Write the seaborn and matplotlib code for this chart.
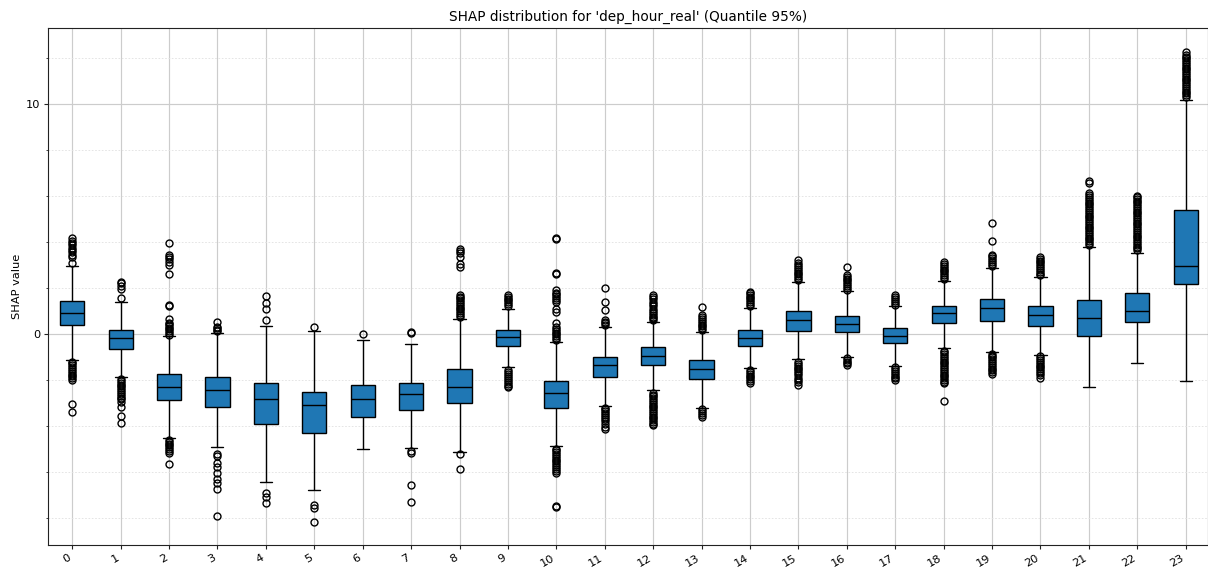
import numpy as np
import pandas as pd
import matplotlib
matplotlib.use("Agg")
import matplotlib.pyplot as plt
from matplotlib.ticker import MultipleLocator
import seaborn as sns

# Per-hour SHAP summary: quartiles, whisker ends and individual outliers
hours = list(range(24))
q1 = [0.39, -0.67, -2.87, -3.16, -3.91, -4.32, -3.62, -3.30, -2.99, -0.51, -3.20, -1.86,
      -1.35, -1.97, -0.51, 0.13, 0.07, -0.41, 0.46, 0.58, 0.36, -0.07, 0.54, 2.17]
median = [0.90, -0.19, -2.32, -2.45, -2.84, -3.09, -2.84, -2.62, -2.32, -0.14, -2.58, -1.35,
          -0.96, -1.51, -0.17, 0.61, 0.43, -0.07, 0.90, 1.14, 0.83, 0.68, 1.01, 2.97]
q3 = [1.43, 0.17, -1.75, -1.86, -2.12, -2.54, -2.23, -2.14, -1.52, 0.17, -2.04, -0.99,
      -0.58, -1.13, 0.17, 1.00, 0.80, 0.25, 1.23, 1.52, 1.22, 1.48, 1.77, 5.39]
whisker_low = [-1.12, -1.88, -4.50, -4.92, -6.42, -6.78, -5.00, -4.94, -5.14, -1.45, -4.86, -3.12,
               -2.43, -3.20, -1.49, -1.10, -0.99, -1.39, -0.59, -0.77, -0.91, -2.29, -1.25, -2.03]
whisker_high = [2.97, 1.40, -0.10, 0.03, 0.35, 0.12, -0.26, -0.42, 0.65, 1.10, -0.36, 0.30,
                0.51, 0.10, 1.12, 2.25, 1.87, 1.22, 2.30, 2.88, 2.49, 3.78, 3.51, 10.17]

outliers_low = [
    [-1.2, -1.28, -1.36, -1.44, -1.52, -1.6, -1.68, -1.76, -1.84, -1.92, -2.0, -3.06, -3.38],
    [-1.96, -2.04, -2.12, -2.2, -2.28, -2.36, -2.44, -2.52, -2.6, -2.68, -2.76, -2.84, -2.94,
     -3.16, -3.57, -3.88],
    [-4.6, -4.68, -4.76, -4.84, -4.92, -5.0, -5.08, -5.16, -5.64],
    [-5.2, -5.3, -5.62, -5.77, -6.06, -6.3, -6.46, -6.75, -7.91],
    [-6.93, -7.07, -7.36],
    [-7.43, -7.58, -8.16],
    [],
    [-5.09, -5.16, -6.57, -7.29],
    [-5.22, -5.87],
    [-1.58, -1.66, -1.74, -1.82, -1.9, -2.0, -2.08, -2.16, -2.24, -2.32],
    [-4.98, -5.06, -5.14, -5.22, -5.3, -5.38, -5.46, -5.54, -5.62, -5.7, -5.78, -5.86, -5.94,
     -6.03, -7.46, -7.52],
    [-3.2, -3.28, -3.36, -3.44, -3.52, -3.6, -3.7, -3.8, -3.9, -4.03, -4.13],
    [-2.55, -2.63, -2.71, -2.79, -2.87, -2.95, -3.03, -3.11, -3.19, -3.27, -3.35, -3.43, -3.51,
     -3.59, -3.67, -3.75, -3.83, -3.91, -3.96],
    [-3.27, -3.35, -3.43, -3.51, -3.6],
    [-1.57, -1.65, -1.73, -1.81, -1.89, -1.97, -2.05, -2.15],
    [-1.22, -1.3, -1.38, -1.46, -1.54, -1.62, -1.7, -1.8, -1.9, -2.0, -2.1, -2.2],
    [-1.05, -1.12, -1.2, -1.28, -1.35],
    [-1.45, -1.53, -1.61, -1.69, -1.77, -1.85, -1.93, -2.0],
    [-0.72, -0.8, -0.88, -0.96, -1.04, -1.12, -1.2, -1.28, -1.36, -1.44, -1.52, -1.6, -1.68,
     -1.76, -1.84, -1.92, -2.0, -2.08, -2.15, -2.9],
    [-0.86, -0.94, -1.02, -1.1, -1.18, -1.26, -1.34, -1.42, -1.5, -1.58, -1.66, -1.75],
    [-0.97, -1.05, -1.13, -1.21, -1.29, -1.37, -1.45, -1.53, -1.61, -1.7, -1.8, -1.93],
    [],
    [],
    [],
]

outliers_high = [
    [3.08, 3.35, 3.45, 3.55, 3.65, 3.75, 3.85, 3.95, 4.05, 4.17],
    [1.55, 1.96, 2.09, 2.2, 2.25],
    [-0.04, 0.05, 0.12, 0.2, 0.28, 0.36, 0.45, 0.5, 0.64, 1.2, 1.28, 2.61, 3.0, 3.12, 3.25,
     3.35, 3.43, 3.94],
    [0.12, 0.18, 0.25, 0.32, 0.54],
    [0.62, 1.07, 1.36, 1.67],
    [0.32],
    [-0.02],
    [0.03, 0.1],
    [0.75, 0.83, 0.91, 0.99, 1.07, 1.15, 1.23, 1.31, 1.39, 1.47, 1.55, 1.63, 1.7, 2.93, 3.05,
     3.35, 3.5, 3.6, 3.68],
    [1.22, 1.3, 1.38, 1.46, 1.54, 1.62, 1.7],
    [-0.26, -0.18, -0.1, -0.02, 0.06, 0.14, 0.22, 0.3, 0.47, 0.97, 1.09, 1.4, 1.48, 1.56, 1.64,
     1.72, 1.8, 1.9, 2.6, 2.64, 4.13, 4.17],
    [0.4, 0.47, 0.54, 0.6, 1.04, 1.38, 2.01],
    [0.6, 0.68, 0.76, 0.84, 0.92, 1.0, 1.1, 1.2, 1.3, 1.4, 1.5, 1.6, 1.7],
    [0.17, 0.25, 0.33, 0.41, 0.49, 0.57, 0.65, 0.73, 0.83, 1.19],
    [1.23, 1.31, 1.39, 1.47, 1.55, 1.63, 1.71, 1.78, 1.84],
    [2.35, 2.43, 2.51, 2.59, 2.67, 2.75, 2.83, 2.91, 3.0, 3.1, 3.2],
    [1.93, 2.01, 2.09, 2.17, 2.25, 2.33, 2.41, 2.49, 2.57, 2.93],
    [1.28, 1.36, 1.44, 1.52, 1.6, 1.7],
    [2.4, 2.48, 2.56, 2.64, 2.72, 2.8, 2.88, 2.96, 3.04, 3.14],
    [2.97, 3.05, 3.13, 3.21, 3.29, 3.37, 3.43, 4.04, 4.81],
    [2.55, 2.63, 2.71, 2.79, 2.87, 2.95, 3.03, 3.11, 3.19, 3.27, 3.36],
    [3.87, 3.95, 4.03, 4.11, 4.19, 4.27, 4.35, 4.43, 4.51, 4.59, 4.67, 4.75, 4.83, 4.91, 4.99,
     5.07, 5.15, 5.23, 5.31, 5.39, 5.47, 5.55, 5.63, 5.71, 5.79, 5.87, 5.95, 6.03, 6.12, 6.58,
     6.66],
    [3.64, 3.72, 3.8, 3.88, 3.96, 4.04, 4.12, 4.2, 4.28, 4.36, 4.44, 4.52, 4.6, 4.68, 4.76,
     4.84, 4.92, 5.0, 5.08, 5.16, 5.24, 5.32, 5.4, 5.48, 5.56, 5.64, 5.72, 5.8, 5.88, 5.96,
     6.02],
    [10.3, 10.38, 10.46, 10.54, 10.62, 10.7, 10.78, 10.86, 10.94, 11.02, 11.1, 11.18, 11.26,
     11.34, 11.42, 11.5, 11.58, 11.66, 11.74, 11.82, 11.9, 11.98, 12.06, 12.14, 12.27],
]

# Assemble a long-form sample per hour whose quartiles, whiskers and
# outliers reproduce the summary above (weighted blocks at q1 / median / q3).
BLOCK = 300
rows = []
for i, h in enumerate(hours):
    values = (outliers_low[i] + [whisker_low[i]]
              + [q1[i]] * BLOCK + [median[i]] * BLOCK + [q3[i]] * BLOCK
              + [whisker_high[i]] + outliers_high[i])
    rows.extend((str(h), v) for v in values)
df = pd.DataFrame(rows, columns=["hour", "shap"])

sns.set_theme(style="ticks")
plt.rcParams["font.family"] = ["DejaVu Sans"]
plt.rcParams["axes.edgecolor"] = "#222222"
plt.rcParams["axes.linewidth"] = 0.8
plt.rcParams["text.color"] = "black"
plt.rcParams["axes.labelcolor"] = "black"
plt.rcParams["xtick.color"] = "black"
plt.rcParams["ytick.color"] = "black"

fig = plt.figure(figsize=(12.08, 5.71), dpi=100)
ax = fig.add_axes([48 / 1208, 1 - 545 / 571, (1207.5 - 48) / 1208, (545 - 28) / 571])

sns.boxplot(
    data=df, x="hour", y="shap", order=[str(h) for h in hours],
    color="#1f77b4", saturation=1, width=0.5, linecolor="black", linewidth=1.0,
    flierprops={"marker": "o", "markersize": 5.0, "markerfacecolor": "none",
                "markeredgecolor": "black", "markeredgewidth": 1.0},
    ax=ax, zorder=3,
)

ax.set_xlim(-0.5, 23.45)
ax.set_ylim(-9.17, 13.30)
ax.yaxis.set_major_locator(MultipleLocator(10))
ax.yaxis.set_minor_locator(MultipleLocator(2))
ax.grid(True, which="major", axis="both", color="#cccccc", linewidth=0.85, zorder=0)
ax.grid(True, which="minor", axis="y", color="#e0e0e0", linewidth=0.6,
        linestyle=(0, (2, 2)), zorder=0)
ax.set_axisbelow(True)

ax.set_title("SHAP distribution for 'dep_hour_real' (Quantile 95%)", fontsize=9.8, pad=5)
ax.set_xlabel("")
ax.set_ylabel("SHAP value", fontsize=8.2, labelpad=3)
ax.tick_params(axis="both", which="major", labelsize=8.2, length=3, width=0.8,
               color="#222222", pad=2.5)
ax.tick_params(axis="y", which="minor", length=1.6, width=0.6, color="#222222")
plt.setp(ax.get_xticklabels(), rotation=30, ha="right")
for side in ["top", "right", "left", "bottom"]:
    ax.spines[side].set_visible(True)

fig.savefig("out.png", dpi=100)
